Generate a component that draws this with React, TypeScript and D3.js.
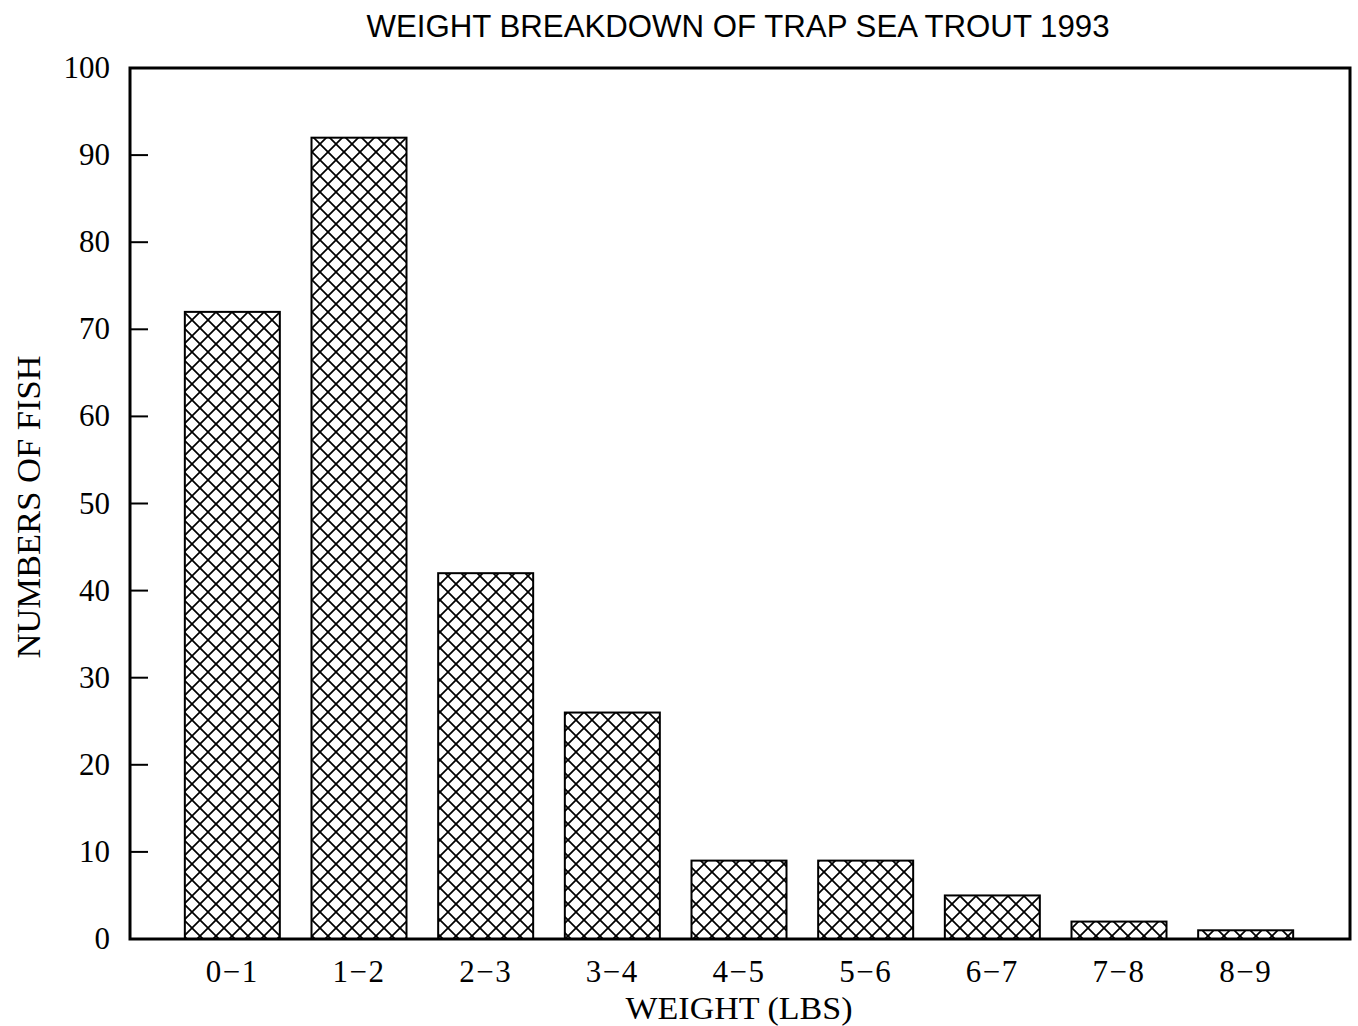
import React from "react";
import * as d3 from "d3";

const categories = ["0\u22121", "1\u22122", "2\u22123", "3\u22124", "4\u22125", "5\u22126", "6\u22127", "7\u22128", "8\u22129"];
const counts = [72, 92, 42, 26, 9, 9, 5, 2, 1];
const yTicks = [0, 10, 20, 30, 40, 50, 60, 70, 80, 90, 100];
const title = "WEIGHT BREAKDOWN OF TRAP SEA TROUT 1993";
const xTitle = "WEIGHT (LBS)";
const yTitle = "NUMBERS OF FISH";

const W = 1358, H = 1026;
const plot = { left: 130, right: 1350, top: 68, bottom: 939 };

export default function App() {
  const x = d3.scaleBand<string>().domain(categories).range([169, 1309]).paddingInner(0.25).paddingOuter(0.125);
  const y = d3.scaleLinear().domain([0, 100]).range([plot.bottom, plot.top]);
  const serif = "'Liberation Serif', 'DejaVu Serif', serif";
  const sans = "'Liberation Sans', Arial, sans-serif";
  return (
    <svg width={W} height={H} style={{ position: "absolute", left: 0, top: 0, background: "#fff" }}>
      <defs>
        <pattern id="hatch" patternUnits="userSpaceOnUse" width={16} height={16}>
          <path d="M-4,4 L4,-4 M0,16 L16,0 M12,20 L20,12" stroke="#000" strokeWidth={1.7} />
          <path d="M-4,12 L4,20 M0,0 L16,16 M12,-4 L20,4" stroke="#000" strokeWidth={1.7} />
        </pattern>
      </defs>
      <rect width={W} height={H} fill="#fff" />
      <text x={738} y={37} textAnchor="middle" fontFamily={sans} fontSize={31} textLength={743} lengthAdjust="spacingAndGlyphs">{title}</text>
      {counts.map((v, i) => {
        const bx = x(categories[i])!;
        return (
          <rect key={i} x={bx} y={y(v)} width={x.bandwidth()} height={plot.bottom - y(v)} fill="url(#hatch)" stroke="#000" strokeWidth={2} />
        );
      })}
      <rect x={plot.left} y={plot.top} width={plot.right - plot.left} height={plot.bottom - plot.top} fill="none" stroke="#000" strokeWidth={3} />
      {yTicks.map((t) => (
        <g key={t}>
          {t > 0 && t < 100 && (
            <line x1={plot.left} x2={plot.left + 18} y1={y(t)} y2={y(t)} stroke="#000" strokeWidth={2} />
          )}
          <text x={110} y={y(t) + 10} textAnchor="end" fontFamily={serif} fontSize={31}>{t}</text>
        </g>
      ))}
      {categories.map((c) => (
        <text key={c} x={x(c)! + x.bandwidth() / 2} y={982} textAnchor="middle" fontFamily={serif} fontSize={31} letterSpacing={1.5}>{c}</text>
      ))}
      <text x={739} y={1019} textAnchor="middle" fontFamily={serif} fontSize={32} textLength={227} lengthAdjust="spacingAndGlyphs">{xTitle}</text>
      <text transform={`translate(40,${507}) rotate(-90)`} textAnchor="middle" fontFamily={serif} fontSize={34} textLength={303} lengthAdjust="spacingAndGlyphs">{yTitle}</text>
    </svg>
  );
}
